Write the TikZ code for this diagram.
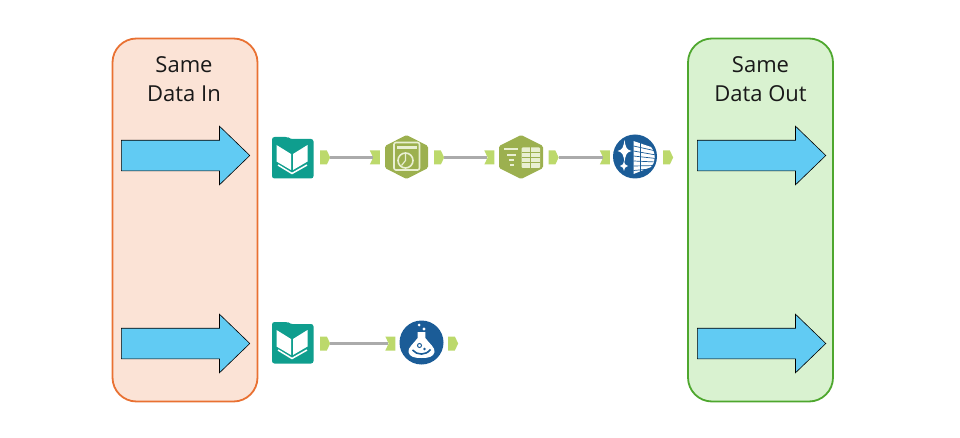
\documentclass[tikz,border=0pt]{standalone}
\usepackage{fontspec}
\setmainfont{Open Sans}
\usetikzlibrary{shapes.arrows,shapes.symbols}
\definecolor{panelA}{HTML}{FBE3D6}
\definecolor{panelAline}{HTML}{E97132}
\definecolor{panelB}{HTML}{D9F2D0}
\definecolor{panelBline}{HTML}{4EA72E}
\definecolor{arrowblue}{HTML}{61CBF3}
\definecolor{teal}{HTML}{0F9E8E}
\definecolor{olive}{HTML}{9CB04F}
\definecolor{navy}{HTML}{1B5C97}
\definecolor{portgreen}{HTML}{BCD96B}
\definecolor{wire}{HTML}{ABABAB}
\definecolor{pale}{HTML}{E9EFD2}
\tikzset{
  panel/.style={draw,rounded corners=24pt,line width=1.8pt,minimum width=145pt,minimum height=363pt,inner sep=0pt},
  bigarrow/.style={shape=single arrow,draw=black,line width=0.6pt,fill=arrowblue,inner sep=0pt,
    text width=0pt,text height=30pt,text depth=0pt,minimum height=128.5pt,
    single arrow head extend=14pt,single arrow head indent=0pt,single arrow tip angle=88,anchor=west},
  caption/.style={align=center,font=\fontsize{22}{29}\selectfont,text=black!90,inner sep=0pt},
  outport/.style={shape=signal,signal to=east,signal from=nowhere,fill=portgreen,inner sep=0pt,
    minimum width=10pt,minimum height=14pt,signal pointer angle=130},
  inport/.style={shape=signal,signal to=nowhere,signal from=west,fill=portgreen,inner sep=0pt,
    minimum width=10pt,minimum height=14pt,signal pointer angle=130},
  wireline/.style={draw=wire,line width=2.6pt},
  book/.pic={
    \fill[teal,rounded corners=2.5pt] (0,0) -- (16,0) -- (18,2) -- (41.5,2) -- (41.5,41.5) -- (0,41.5) -- cycle;
    \fill[white] (4.5,8) -- (19,17) -- (19,33) -- (4.5,24.5) -- cycle;
    \fill[white] (21,17) -- (35.5,8) -- (35.5,24.5) -- (21,33) -- cycle;
    \draw[white,line width=1.5pt] (6,28) -- (20,36.5) -- (35,28);
  },
}
\begin{document}
\begin{tikzpicture}[x=1pt,y=-1pt]
\useasboundingbox (0,0) rectangle (960,438);
% panels
\node[panel,fill=panelA,draw=panelAline] (inpanel) at (185,220) {};
\node[panel,fill=panelB,draw=panelBline] (outpanel) at (760.5,220) {};
\node[caption] (intext) at (184,79.5) {Same\\Data In};
\node[caption] (outtext) at (760.5,79.5) {Same\\Data Out};
% big arrows
\node[bigarrow] (a1) at (121,155.5) {};
\node[bigarrow] (a2) at (121,343.5) {};
\node[bigarrow] (a3) at (697,155.5) {};
\node[bigarrow] (a4) at (697,343.5) {};
% ports
\node[outport] (o1) at (323.5,157.5) {};
\node[inport]  (i2) at (376.5,157.5) {};
\node[outport] (o2) at (437.5,157.5) {};
\node[inport]  (i3) at (491,157.5) {};
\node[outport] (o3) at (552,157.5) {};
\node[inport]  (i4) at (606.5,157.5) {};
\node[outport] (o4) at (666.5,157.5) {};
\node[outport] (o5) at (323.5,343.5) {};
\node[inport]  (i6) at (392,343.5) {};
\node[outport] (o6) at (451.5,343.5) {};
% connectors
\draw[wireline] (o1.east) -- (i2.west);
\draw[wireline] (o2.east) -- (i3.west);
\draw[wireline] (o3.east) -- (i4.west);
\draw[wireline] (o5.east) -- (i6.west);
% book icons
\pic at (272,137) {book};
\pic at (272,322) {book};
% hexagon: scale tool
\fill[olive,rounded corners=1.5pt] (406.5,135) -- (428,146) -- (428,168) -- (406.5,179) -- (385,168) -- (385,146) -- cycle;
\draw[pale,line width=1.6pt,rounded corners=2pt] (394,142.5) rectangle (419.5,170);
\fill[pale] (397,146) rectangle (416.5,149.5);
\draw[pale,line width=1.6pt] (405.5,160.5) circle (7.5);
\draw[pale,line width=1.2pt] (405.5,153.5) -- (405.5,160.5) -- (401.5,165.5);
% hexagon: summary table tool
\fill[olive,rounded corners=1.5pt] (521,135) -- (543,146) -- (543,168) -- (521,179) -- (499,168) -- (499,146) -- cycle;
\fill[pale] (503.5,148) rectangle (517.5,150.2);
\fill[pale] (506.5,154) rectangle (516,156.2);
\fill[pale] (508.5,159) rectangle (514,161.2);
\fill[pale] (509.5,164) rectangle (513.5,166.2);
\fill[pale,rounded corners=1pt] (521.7,147.5) rectangle (540,168);
\draw[olive,line width=0.9pt] (530,147.5) -- (530,168) (521.7,152.5) -- (540,152.5) (521.7,157.5) -- (540,157.5) (521.7,162.5) -- (540,162.5);
% circle: sparkle table tool
\fill[navy] (635,156.5) circle (22);
\begin{scope}
\clip (635,156.5) circle (21.5);
\fill[white] (633.5,141) -- (651,147) .. controls (656,153) and (656,162) .. (651,167) -- (633.5,174) -- cycle;
\draw[navy,line width=0.7pt] (640,141) -- (640,174);
\draw[navy,line width=0.7pt] (633.5,146) -- (656,151) (633.5,151) -- (656,155) (633.5,156) -- (656,158.5) (633.5,161) -- (656,162) (633.5,166) -- (656,165.5) (633.5,170.5) -- (656,168.5);
\end{scope}
\fill[white] (624.5,140) .. controls (625.5,147) and (626.5,150) .. (631.5,151) .. controls (626.5,152) and (625.5,155) .. (624.5,162) .. controls (623.5,155) and (622.5,152) .. (617.5,151) .. controls (622.5,150) and (623.5,147) .. (624.5,140) -- cycle;
\fill[white] (624,161) .. controls (624.4,164) and (625,165) .. (628,166) .. controls (625,167) and (624.4,168) .. (624,171) .. controls (623.6,168) and (623,167) .. (620,166) .. controls (623,165) and (623.6,164) .. (624,161) -- cycle;
% circle: flask tool
\fill[navy] (421.5,342.5) circle (22);
\fill[white] (417.7,332) -- (425.3,332) -- (425.3,338) .. controls (429,343) and (435.5,348) .. (434.5,352) .. controls (433.5,357) and (428.5,358) .. (421.5,358) .. controls (414.5,358) and (409.5,357) .. (408.5,352) .. controls (407.5,348) and (414,343) .. (417.7,338) -- cycle;
\fill[white] (419,325) circle (1.5) (424,329) circle (1.6);
\draw[navy,line width=1pt] (419.5,345.5) circle (2);
\fill[navy] (424.5,349) circle (1.3);
\draw[navy,line width=1.6pt] (412.5,350) .. controls (417,355.5) and (426,355.5) .. (430.5,349.5);
\end{tikzpicture}
\end{document}
